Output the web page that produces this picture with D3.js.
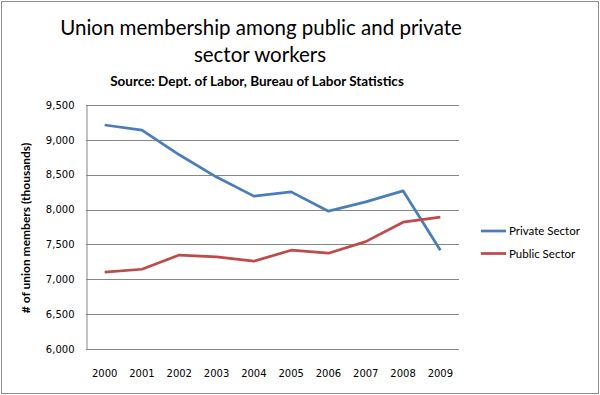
<!DOCTYPE html>
<html>
<head>
<meta charset="utf-8">
<script src="https://cdn.jsdelivr.net/npm/d3@7"></script>
<style>
  body { margin: 0; background: #fff; }
  svg { display: block; }
</style>
</head>
<body>
<div id="chart"></div>
<script>
// data (thousands of members)
const years = ['2000', '2001', '2002', '2003', '2004', '2005', '2006', '2007', '2008', '2009'];
const privateSector = [9213, 9141, 8786, 8466, 8193, 8254, 7977, 8111, 8269, 7417];
const publicSector = [7101, 7144, 7348, 7320, 7259, 7417, 7374, 7540, 7819, 7891];
const yTicks = [6000, 6500, 7000, 7500, 8000, 8500, 9000, 9500];
const seriesNames = ['Private Sector', 'Public Sector'];
const seriesColors = ['#4a7ebb', '#be4b48'];

const width = 600;
const height = 395;
const plot = { left: 86, right: 459, top: 105, bottom: 349 };

const svg = d3.select('#chart')
  .append('svg')
  .attr('width', width)
  .attr('height', height);

// outer frame
svg.append('rect')
  .attr('x', 1.5).attr('y', 1.5)
  .attr('width', width - 3).attr('height', height - 3)
  .attr('fill', '#fff')
  .attr('stroke', '#8c8c8c');

// titles
const titleFont = 'Lato, "Open Sans", sans-serif';
svg.append('text')
  .attr('x', 261).attr('y', 35)
  .attr('text-anchor', 'middle')
  .attr('font-family', titleFont)
  .attr('font-size', 20.5)
  .attr('fill', '#000')
  .text('Union membership among public and private');
svg.append('text')
  .attr('x', 260).attr('y', 62)
  .attr('text-anchor', 'middle')
  .attr('font-family', titleFont)
  .attr('font-size', 20.5)
  .attr('fill', '#000')
  .text('sector workers');
svg.append('text')
  .attr('x', 257).attr('y', 86)
  .attr('text-anchor', 'middle')
  .attr('font-family', titleFont)
  .attr('font-size', 13.5)
  .attr('font-weight', 'bold')
  .attr('fill', '#000')
  .text('Source: Dept. of Labor, Bureau of Labor Statistics');

// scales
const x = d3.scaleBand()
  .domain(years)
  .range([plot.left, plot.right]);

const y = d3.scaleLinear()
  .domain([6000, 9500])
  .range([plot.bottom, plot.top]);

// gridlines
svg.append('g')
  .selectAll('line')
  .data(yTicks)
  .enter()
  .append('line')
  .attr('x1', plot.left).attr('x2', plot.right)
  .attr('y1', d => Math.round(y(d)) + 0.5)
  .attr('y2', d => Math.round(y(d)) + 0.5)
  .attr('stroke', '#868686');

// y axis
const axisY = d3.axisLeft(y).tickValues(yTicks).tickFormat(d3.format(',')).tickSize(0).tickPadding(12);
const gy = svg.append('g')
  .attr('transform', `translate(${plot.left + 0.5}, 0)`)
  .call(axisY);
gy.select('.domain').attr('stroke', '#868686');
gy.selectAll('text')
  .attr('font-family', '"DejaVu Sans", Verdana, sans-serif')
  .attr('font-size', 10)
  .attr('fill', '#000');

// x axis
const axisX = d3.axisBottom(x).tickSize(0).tickPadding(20);
const gx = svg.append('g')
  .attr('transform', `translate(0, ${plot.bottom + 0.5})`)
  .call(axisX);
gx.select('.domain').remove();
gx.selectAll('text')
  .attr('font-family', '"DejaVu Sans", Verdana, sans-serif')
  .attr('font-size', 10)
  .attr('fill', '#000');

// y axis title
svg.append('text')
  .attr('transform', 'translate(30, 228) rotate(-90)')
  .attr('text-anchor', 'middle')
  .attr('font-family', titleFont)
  .attr('font-size', 12)
  .attr('font-weight', 'bold')
  .attr('fill', '#000')
  .text('# of union members (thousands)');

// lines
const line = d3.line()
  .x((d, i) => x(years[i]) + x.bandwidth() / 2)
  .y(d => y(d));

[privateSector, publicSector].forEach((values, i) => {
  svg.append('path')
    .datum(values)
    .attr('d', line)
    .attr('fill', 'none')
    .attr('stroke', seriesColors[i])
    .attr('stroke-width', 2.75)
    .attr('stroke-linejoin', 'round');
});

// legend
const legend = svg.append('g')
  .attr('transform', 'translate(481, 231)');
seriesNames.forEach((name, i) => {
  const row = legend.append('g').attr('transform', `translate(0, ${i * 22.5})`);
  row.append('line')
    .attr('x1', 0).attr('x2', 25)
    .attr('stroke', seriesColors[i])
    .attr('stroke-width', 2.75);
  row.append('text')
    .attr('x', 28).attr('y', 4)
    .attr('font-family', titleFont)
    .attr('font-size', 11.5)
    .attr('fill', '#000')
    .text(name);
});
</script>
</body>
</html>
